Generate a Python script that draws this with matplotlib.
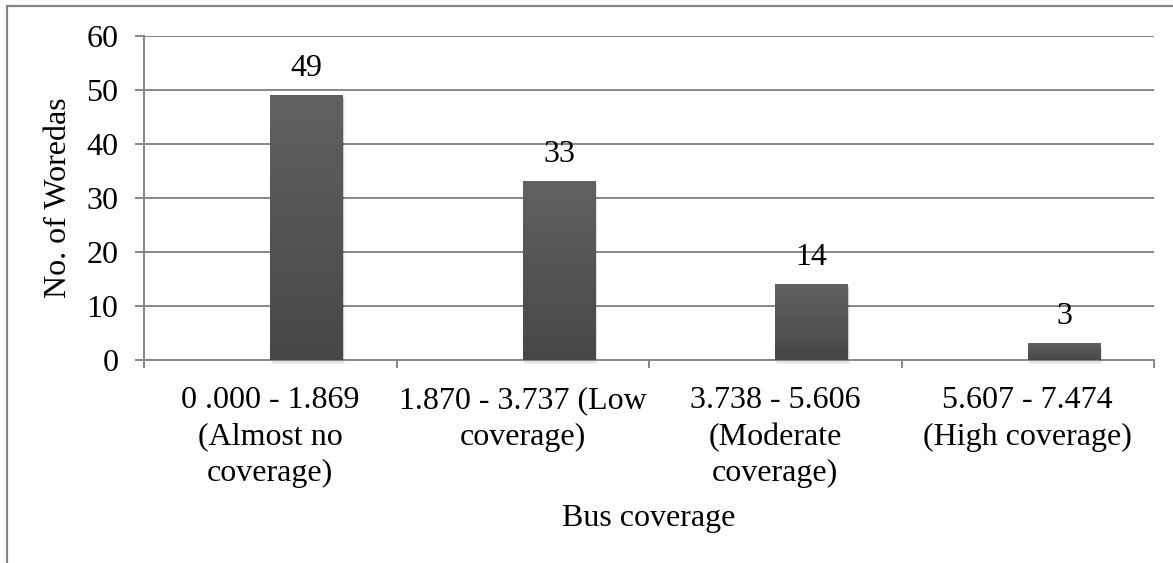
import numpy as np
import matplotlib
matplotlib.use("Agg")
import matplotlib.pyplot as plt
from matplotlib.patches import Rectangle

# Data
categories = [
    "0 .000 - 1.869\n(Almost no\ncoverage)",
    "1.870 - 3.737 (Low\ncoverage)",
    "3.738 - 5.606\n(Moderate\ncoverage)",
    "5.607 - 7.474\n(High coverage)",
]
woredas = [49, 33, 14, 3]
y_ticks = [0, 10, 20, 30, 40, 50, 60]

W, H, DPI = 1173, 563, 100
plt.rcParams["font.family"] = ["Liberation Serif", "DejaVu Serif"]
FS = 23
GRID = "#868686"

fig = plt.figure(figsize=(W / DPI, H / DPI), dpi=DPI)
fig.patch.set_facecolor("white")

# Outer chart frame
fig.add_artist(Rectangle((6.5 / W, -0.05), 1.2, (H - 5.5) / H + 0.05,
                         transform=fig.transFigure, fill=False,
                         edgecolor=GRID, linewidth=1.6))

ax = fig.add_axes([144 / W, (H - 360) / H, 1010 / W, 324 / H])
ax.set_xlim(0, len(categories))
ax.set_ylim(0, 60)

bar_w = 0.289
offset = 0.144
x = np.arange(len(categories)) + 0.5 + offset

# Gradient fill for each bar plus a soft shadow
grad = np.linspace(0, 1, 256).reshape(-1, 1)
cmap = matplotlib.colors.LinearSegmentedColormap.from_list(
    "bar", ["#474747", "#616161"])
for xi, v in zip(x, woredas):
    for k, a in enumerate([0.10, 0.07, 0.04]):
        ax.add_patch(Rectangle((xi - bar_w / 2 + 0.002 * (k + 1), -0.25 * (k + 1)),
                               bar_w, v, facecolor="black", alpha=a,
                               edgecolor="none", zorder=2, clip_on=False))
    ax.imshow(grad, extent=[xi - bar_w / 2, xi + bar_w / 2, 0, v],
              origin="lower", aspect="auto", cmap=cmap, zorder=3,
              interpolation="bicubic")
    ax.annotate(str(v), (xi, v), xytext=(0, 14), textcoords="offset points",
                ha="center", va="baseline", fontsize=FS, color="black")

ax.set_xlim(0, len(categories))
ax.set_ylim(0, 60)

# Gridlines and axes
ax.set_yticks(y_ticks)
ax.yaxis.grid(True, color=GRID, linewidth=1.4, zorder=1)
ax.set_axisbelow(True)
for s in ["top", "right"]:
    ax.spines[s].set_visible(False)
for s in ["left", "bottom"]:
    ax.spines[s].set_color(GRID)
    ax.spines[s].set_linewidth(1.4)
ax.tick_params(axis="y", length=6.5, width=1.4, color=GRID, pad=12,
               labelsize=FS, labelcolor="black")

ax.set_xticks(np.arange(len(categories) + 1))
ax.set_xticklabels([])
ax.set_xticks(np.arange(len(categories)) + 0.5, minor=True)
ax.set_xticklabels(categories, minor=True, fontsize=FS, linespacing=1.32)
ax.tick_params(axis="x", which="major", length=6, width=1.4, color=GRID)
ax.tick_params(axis="x", which="minor", length=0, pad=19, labelcolor="black")

fig.text(59 / W, 1 - 198 / H, "No. of Woredas", rotation=90,
         ha="center", va="center", fontsize=FS)
fig.text(649 / W, 1 - 526 / H, "Bus coverage", ha="center",
         va="baseline", fontsize=FS)

fig.savefig("out.png", dpi=DPI, facecolor="white")
